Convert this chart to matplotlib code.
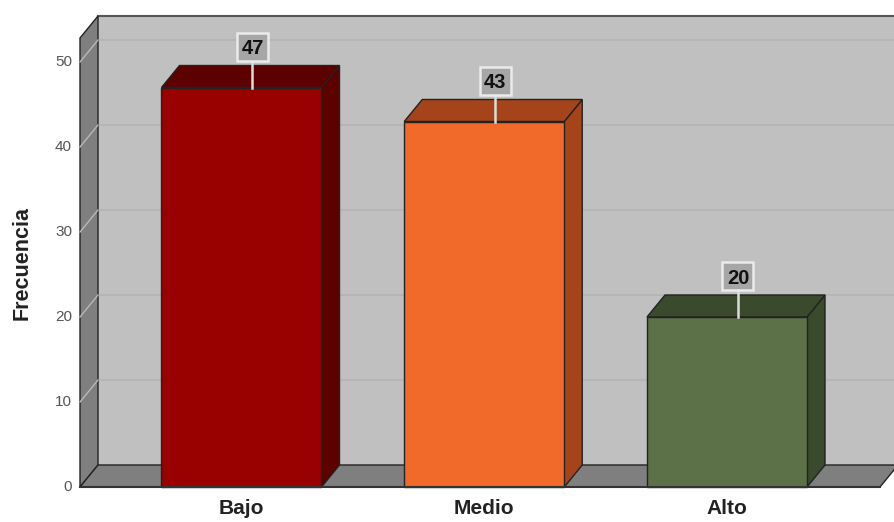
import matplotlib
matplotlib.use("Agg")
import matplotlib.pyplot as plt
from matplotlib.patches import Polygon, Rectangle
from matplotlib.transforms import ScaledTranslation

plt.rcParams["font.family"] = ["Liberation Sans", "DejaVu Sans"]

categories = ["Bajo", "Medio", "Alto"]
values = [47, 43, 20]
yticks = [0, 10, 20, 30, 40, 50]
front_colors = ["#990000", "#f26a2a", "#5c7148"]
dark_colors = ["#5c0000", "#a5441a", "#3a4a2c"]

W, H = 895, 522
fig = plt.figure(figsize=(W / 100, H / 100), dpi=100)
fig.patch.set_facecolor("white")

# front plane layout in pixels
px_left, px_right = 80, 880
px_zero, px_top = 487, 38
ppu = 8.5  # pixels per unit
ymax = (px_zero - px_top) / ppu
spacing = 242.75
x0 = -(241.5 - px_left) / spacing
x1 = 2 + (px_right - 727) / spacing

ax = fig.add_axes([px_left / W, (H - px_zero) / H, (px_right - px_left) / W, (px_zero - px_top) / H])
ax.set_xlim(x0, x1)
ax.set_ylim(0, ymax)
ax.axis("off")

ddx = 18 / spacing
ddy = 22 / ppu
edge = "#222222"

def poly(pts, fc, ec=edge, lw=1.0, z=1):
    p = Polygon(pts, closed=True, facecolor=fc, edgecolor=ec, linewidth=lw, zorder=z, clip_on=False)
    ax.add_patch(p)

# back wall
poly([(x0 + ddx, ddy), (x1 + ddx + 1, ddy), (x1 + ddx + 1, ymax + ddy), (x0 + ddx, ymax + ddy)], "#c0c0c0", ec="none", z=1)
ax.plot([x0 + ddx, x1 + ddx + 1], [ymax + ddy, ymax + ddy], color="#555555", lw=1.5, zorder=2, clip_on=False)
# gridlines on back wall
for v in yticks[1:]:
    ax.plot([x0 + ddx, x1 + ddx + 1], [v + ddy, v + ddy], color="#b3b3b3", lw=1.2, zorder=2, clip_on=False)
# left wall
poly([(x0, 0), (x0 + ddx, ddy), (x0 + ddx, ymax + ddy), (x0, ymax)], "#7f7f7f", z=3)
# floor
poly([(x0, 0), (x1, 0), (x1 + ddx, ddy), (x0 + ddx, ddy)], "#7f7f7f", z=3)
# tick lines on left wall
for v in yticks[1:]:
    ax.plot([x0, x0 + ddx], [v, v + ddy], color="#b8b8b8", lw=1.0, zorder=4, clip_on=False)
for v in yticks:
    ax.text(x0 - 8 / spacing, v, str(v), ha="right", va="center", fontsize=11, color="#555555", zorder=5)

bw = 160 / spacing
bw_px, bh_px = 0.31, 0.28  # label box size in inches
for i, (cat, v) in enumerate(zip(categories, values)):
    l, r = i - bw / 2, i + bw / 2
    # side face
    poly([(r, 0), (r + ddx, ddy), (r + ddx, v + ddy), (r, v)], dark_colors[i], z=6)
    # top face
    poly([(l, v), (r, v), (r + ddx, v + ddy), (l + ddx, v + ddy)], dark_colors[i], z=6)
    # front face
    ax.bar(i, v, width=bw, color=front_colors[i], edgecolor=edge, linewidth=1.0, zorder=7, clip_on=False)
    # label
    lx = i + 11 / spacing
    ly = v + 41 / ppu
    ax.plot([lx, lx], [v, ly], color="#dcdcdc", lw=1.8, zorder=8, clip_on=False)
    tr = fig.dpi_scale_trans + ScaledTranslation(lx, ly, ax.transData)
    ax.add_patch(Rectangle((-bw_px / 2, -bh_px / 2), bw_px, bh_px, transform=tr, facecolor="#a6a6a6",
                           edgecolor="#ebebeb", linewidth=1.8, zorder=9, clip_on=False))
    ax.text(lx, ly, str(v), ha="center", va="center_baseline", fontsize=14.5, fontweight="bold", color="#111111", zorder=10)
    ax.text(i, -21 / ppu, cat, ha="center", va="center", fontsize=15, fontweight="bold", color="#222222")

# front floor line
ax.plot([x0, x1], [0, 0], color="#333333", lw=1.5, zorder=8, clip_on=False)

fig.text(22 / W, 1 - 263 / H, "Frecuencia", rotation=90, ha="center", va="center", fontsize=15.5, fontweight="bold", color="#222222")

fig.savefig("out.png", dpi=100, facecolor="white")
